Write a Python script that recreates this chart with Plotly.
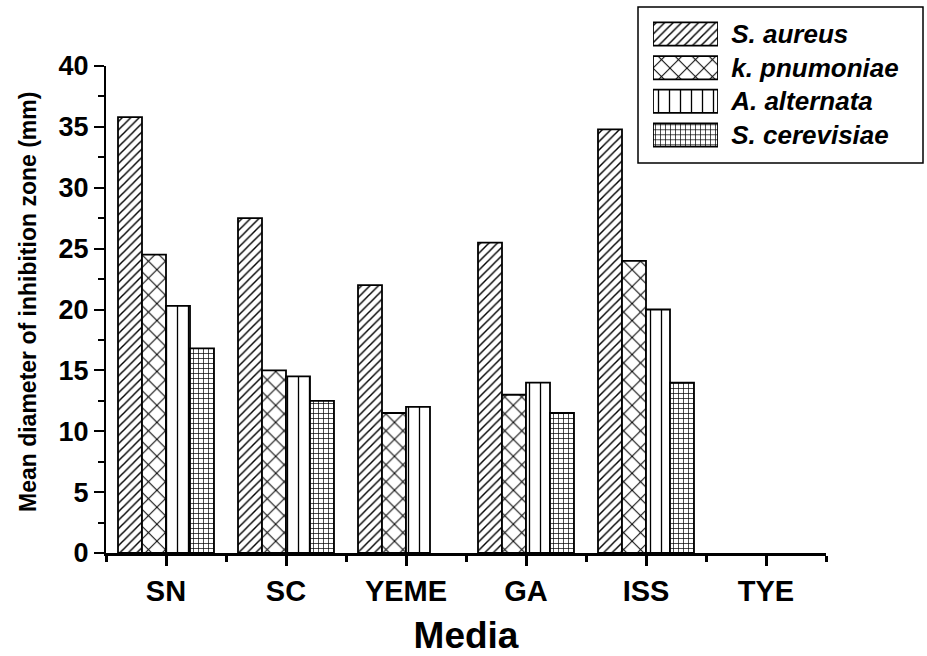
import plotly.graph_objects as go

media = ["SN", "SC", "YEME", "GA", "ISS", "TYE"]
species = ["S. aureus", "k. pnumoniae", "A. alternata", "S. cerevisiae"]
# None = no zone of inhibition (no bar drawn)
s_aureus = [35.8, 27.5, 22.0, 25.5, 34.8, None]
k_pnumoniae = [24.5, 15.0, 11.5, 13.0, 24.0, None]
a_alternata = [20.3, 14.5, 12.0, 14.0, 20.0, None]
s_cerevisiae = [16.8, 12.5, None, 11.5, 14.0, None]
y_ticks = [0, 5, 10, 15, 20, 25, 30, 35, 40]
y_title = "Mean diameter of inhibition zone (mm)"

series = [s_aureus, k_pnumoniae, a_alternata, s_cerevisiae]
patterns = [("/", 6, 0.24), ("x", 12, 0.16), ("|", 11, 0.12), ("+", 5, 0.26)]

W, H = 927, 656
FONT = "Liberation Sans, Arial, sans-serif"
idx = list(range(len(media)))

fig = go.Figure()
for name, vals, (shp, sz, sol) in zip(species, series, patterns):
    fig.add_trace(go.Bar(
        x=idx, y=vals, name=name, showlegend=False,
        marker=dict(color="white",
                    line=dict(color="black", width=1.8),
                    pattern=dict(shape=shp, size=sz, solidity=sol,
                                 fgcolor="black", bgcolor="white", fillmode="replace")),
        xaxis="x", yaxis="y",
    ))

# legend drawn as a small subplot of pattern swatches
fig.add_trace(go.Bar(
    x=[1] * len(species), y=species, orientation="h", showlegend=False,
    width=0.69, hoverinfo="skip",
    marker=dict(color="white", line=dict(color="black", width=1.8),
                pattern=dict(shape=[p[0] for p in patterns],
                             size=[p[1] for p in patterns],
                             solidity=[p[2] for p in patterns],
                             fgcolor="black", bgcolor="white", fillmode="replace")),
    xaxis="x2", yaxis="y2",
))

fig.update_layout(
    width=W, height=H,
    margin=dict(l=0, r=0, t=0, b=0),
    paper_bgcolor="white", plot_bgcolor="white",
    barmode="group", bargap=0.2, bargroupgap=0,
    font=dict(family=FONT, color="black"),
    xaxis=dict(
        domain=[106 / W, 826 / W], anchor="y",
        range=[-0.5, 5.5], tickmode="array", tickvals=idx, ticktext=media,
        showline=True, linecolor="black", linewidth=3, mirror=False,
        ticks="outside", ticklen=10, tickwidth=2.5, tickcolor="black",
        minor=dict(tickmode="array", tickvals=[i - 0.5 for i in range(len(media) + 1)],
                   ticks="outside", ticklen=6, tickwidth=2.5, tickcolor="black"),
        showgrid=False, zeroline=False,
        tickfont=dict(family=FONT, size=29, weight="bold"),
        title=dict(text="Media", font=dict(family=FONT, size=37, weight="bold"), standoff=18),
        automargin=False,
    ),
    yaxis=dict(
        domain=[1 - 553 / H, 1 - 66 / H], anchor="x",
        range=[0, 40], tickmode="array", tickvals=y_ticks,
        showline=True, linecolor="black", linewidth=2.2,
        ticks="outside", ticklen=10, tickwidth=2, tickcolor="black",
        minor=dict(dtick=2.5, ticks="outside", ticklen=6, tickwidth=2, tickcolor="black"),
        showgrid=False, zeroline=False,
        tickfont=dict(family=FONT, size=27, weight="bold"),
        automargin=False,
    ),
    xaxis2=dict(
        domain=[653 / W, 718 / W], anchor="y2", range=[0, 1],
        visible=False, fixedrange=True,
    ),
    yaxis2=dict(
        domain=[1 - 151.75 / H, 1 - 17.25 / H], anchor="x2",
        type="category", categoryorder="array", categoryarray=species,
        range=[3.5, -0.5], side="right",
        showline=False, showgrid=False, zeroline=False,
        ticks="outside", ticklen=7, tickcolor="rgba(0,0,0,0)",
        tickfont=dict(family=FONT, size=26, weight="bold", style="italic"),
        fixedrange=True, automargin=False,
    ),
    annotations=[dict(text=y_title, xref="paper", yref="paper",
                      x=28 / W, y=1 - 302 / H, xanchor="center", yanchor="middle",
                      textangle=-90, showarrow=False,
                      font=dict(family=FONT, size=23, weight="bold"))],
    shapes=[dict(type="rect", xref="paper", yref="paper",
                 x0=638 / W, x1=923 / W, y0=1 - 163 / H, y1=1 - 7 / H,
                 line=dict(color="black", width=1.5), fillcolor="rgba(0,0,0,0)", layer="below")],
)

fig.write_html("out.html")
